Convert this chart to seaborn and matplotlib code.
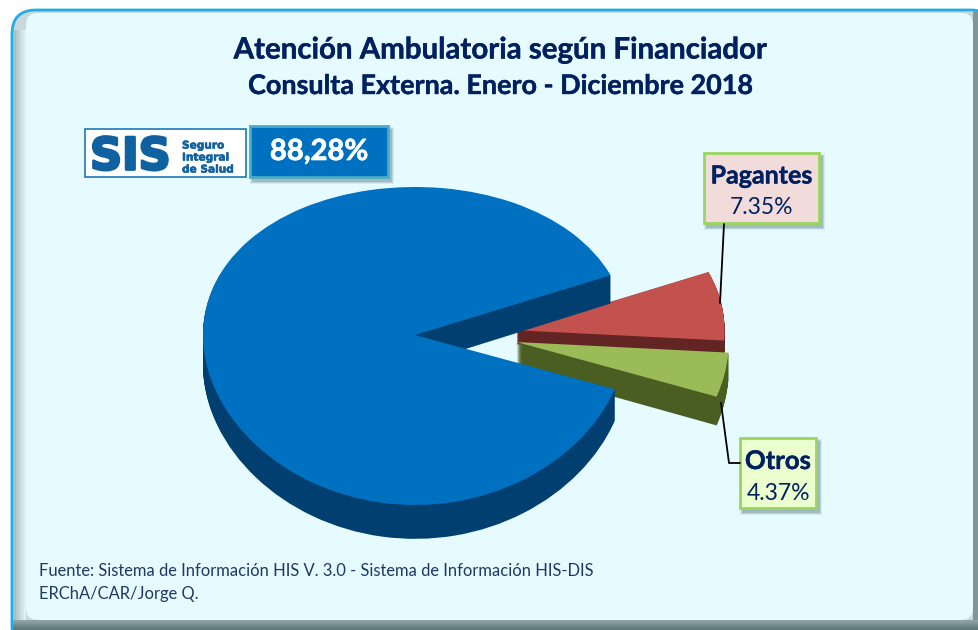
import numpy as np
import matplotlib
matplotlib.use('Agg')
import matplotlib.pyplot as plt
import matplotlib.patheffects as pe
import seaborn as sns
from matplotlib.patches import FancyBboxPatch, Rectangle

# Values
categories = ['SIS', 'Pagantes', 'Otros']
shares = [88.28, 7.35, 4.37]
share_labels = ['88,28%', '7.35%', '4.37%']
title_lines = ['Atención Ambulatoria según Financiador', 'Consulta Externa. Enero - Diciembre 2018']
source_lines = ['Fuente: Sistema de Información HIS V. 3.0 - Sistema de Información HIS-DIS', 'ERChA/CAR/Jorge Q.']
logo_lines = ['Seguro', 'Integral', 'de Salud']

# Slice styling, same order as categories
top_colors = ['#0070C0', '#C3524F', '#9BBB59']
side_colors = ['#003F6F', '#632523', '#4A5E22']
slice_shift = [(0.0, 0.0), (0.48, 0.03), (0.48, -0.044)]
slice_depth = [0.185, 0.088, 0.17]
slice_radius = [1.0, 0.98, 1.0]
slice_z = [3, 1, 2]

NAVY = '#002060'
W, H = 979, 630
BOW = 0.069  # how far the pie tips towards the viewer


def tilt(y):
    return y + BOW * (1 - y ** 2)


def untilt(f):
    return (1 - np.sqrt(np.maximum(1 - 4 * BOW * (f - BOW), 1e-9))) / (2 * BOW)


sns.set_theme(style='white')
plt.rcParams['font.family'] = ['Lato', 'DejaVu Sans']

fig = plt.figure(figsize=(W / 100, H / 100), dpi=100, facecolor='white')

# Frame and background, drawn in pixel coordinates
bg = fig.add_axes([0, 0, 1, 1], zorder=0)
bg.set_xlim(0, W)
bg.set_ylim(H, 0)
bg.axis('off')


def rounded(ax, x0, y0, x1, y1, r, **kw):
    patch = FancyBboxPatch((x0 + r, y0 + r), x1 - x0 - 2 * r, y1 - y0 - 2 * r,
                           boxstyle=f'round,pad={r},rounding_size={r}', **kw)
    ax.add_patch(patch)
    return patch


frame = rounded(bg, 12, 10, 995, 650, 24, fc='#C8D8DC', ec='#1FAEE6', lw=2)
inner = rounded(bg, 13, 11, 994, 649, 23, fc='none', ec='none')
strips = [Rectangle((973, 10), 6, 620, fc='#7F969B', ec='none')]
for i, c in enumerate(sns.blend_palette(['#5F787C', '#8CA2A7'], 5)):
    strips.append(Rectangle((12, 630 - (i + 1) * 2), 967, 2, fc=c, ec='none'))
for i, c in enumerate(sns.blend_palette(['#A9BFC6', '#DDF1F5'], 6)):
    strips.append(Rectangle((14 + i * 2, 30), 2, 590, fc=c, ec='none'))
for s in strips:
    bg.add_patch(s)
    s.set_clip_path(inner)
rounded(bg, 26, 13, 973, 620, 12, fc='#E6FBFF', ec='none')

# Pie with thickness: stacked pie layers pushed downwards
ax = fig.add_axes([0, 0, 1, 1], zorder=1)
ax.patch.set_alpha(0)
steps = np.linspace(1, 0, 41)
for step in steps:
    colors = side_colors if step > 0 else top_colors
    wedges, _ = ax.pie(shares, colors=colors, startangle=-19.5, counterclock=False,
                       radius=1, wedgeprops={'linewidth': 0})
    for i, w in enumerate(wedges):
        dx, dy = slice_shift[i]
        w.set_radius(slice_radius[i])
        w.set_center((dx, dy - step * slice_depth[i]))
        w.set_zorder(slice_z[i] + (1 - step) * 0.5)
ax.set_aspect('auto')
ax.set_yscale('function', functions=(tilt, untilt))
ax.set_xlim(-415 / 212, (W - 415) / 212)
ax.set_ylim(untilt((346 - H) / 159), untilt(346 / 159))
ax.axis('off')

# Labels, boxes and text on top
top = fig.add_axes([0, 0, 1, 1], zorder=2)
top.patch.set_alpha(0)
top.set_xlim(0, W)
top.set_ylim(H, 0)
top.axis('off')

heavy = [pe.withStroke(linewidth=0.3, foreground=NAVY)]
top.text(499, 50.5, title_lines[0], ha='center', va='center', fontsize=21.2, fontweight='bold',
         color=NAVY, path_effects=heavy)
top.text(499.5, 86, title_lines[1], ha='center', va='center', fontsize=19.4, fontweight='bold',
         color=NAVY, path_effects=heavy)

for y, line in zip([571.5, 593.5], source_lines):
    top.text(39, y, line, ha='left', va='center', fontsize=11.9, color='#1F3864')


def label_box(x0, y0, x1, y1, fc, ec, lw=2):
    for grow, alpha in [(3, 0.12), (2, 0.2), (1, 0.3)]:
        top.add_patch(Rectangle((x0 + 3 - grow, y0 + 4 - grow), x1 - x0 + 2 * grow, y1 - y0 + 2 * grow,
                                fc='#5F7F85', ec='none', alpha=alpha))
    top.add_patch(Rectangle((x0, y0), x1 - x0, y1 - y0, fc=fc, ec=ec, lw=lw))


# Logo
top.add_patch(Rectangle((85.5, 128.5), 161, 48, fc='white', ec='#1F78B8', lw=1.2))
top.text(130.5, 157, categories[0], ha='center', va='center', fontsize=32, fontweight='bold',
         family='DejaVu Sans', color='#10619F',
         path_effects=[pe.withStroke(linewidth=2, foreground='#10619F')])
for y, line in zip([145.5, 157.5, 169.5], logo_lines):
    top.text(182, y, line, ha='left', va='center', fontsize=7.6, fontweight='bold',
             family='DejaVu Sans', color='#10619F', stretch='expanded',
             path_effects=[pe.withStroke(linewidth=0.4, foreground='#10619F')])

label_box(250, 126, 388, 177, '#0070C0', '#4BACC6')
top.text(319, 152, share_labels[0], ha='center', va='center', fontsize=21, fontweight='bold',
         color='white', path_effects=[pe.withStroke(linewidth=0.5, foreground='white')])

# Leader lines
top.plot([724, 720], [224, 303], color='black', lw=1.3)
top.plot([721, 729, 740], [403, 463, 463], color='black', lw=1.3)

label_box(704, 153, 819, 223, '#F2DCDB', '#9BD45F')
top.text(761.5, 176, categories[1], ha='center', va='center', fontsize=18, fontweight='bold',
         color=NAVY, path_effects=heavy)
top.text(761.5, 208, share_labels[1], ha='center', va='center', fontsize=16.5, color=NAVY)

label_box(740, 438, 816, 508, '#EBFFCF', '#9BD45F')
top.text(778, 461, categories[2], ha='center', va='center', fontsize=18.5, fontweight='bold',
         color=NAVY, path_effects=heavy)
top.text(778, 494, share_labels[2], ha='center', va='center', fontsize=16.5, color=NAVY)

fig.savefig('out.png', dpi=100)
plt.close(fig)
